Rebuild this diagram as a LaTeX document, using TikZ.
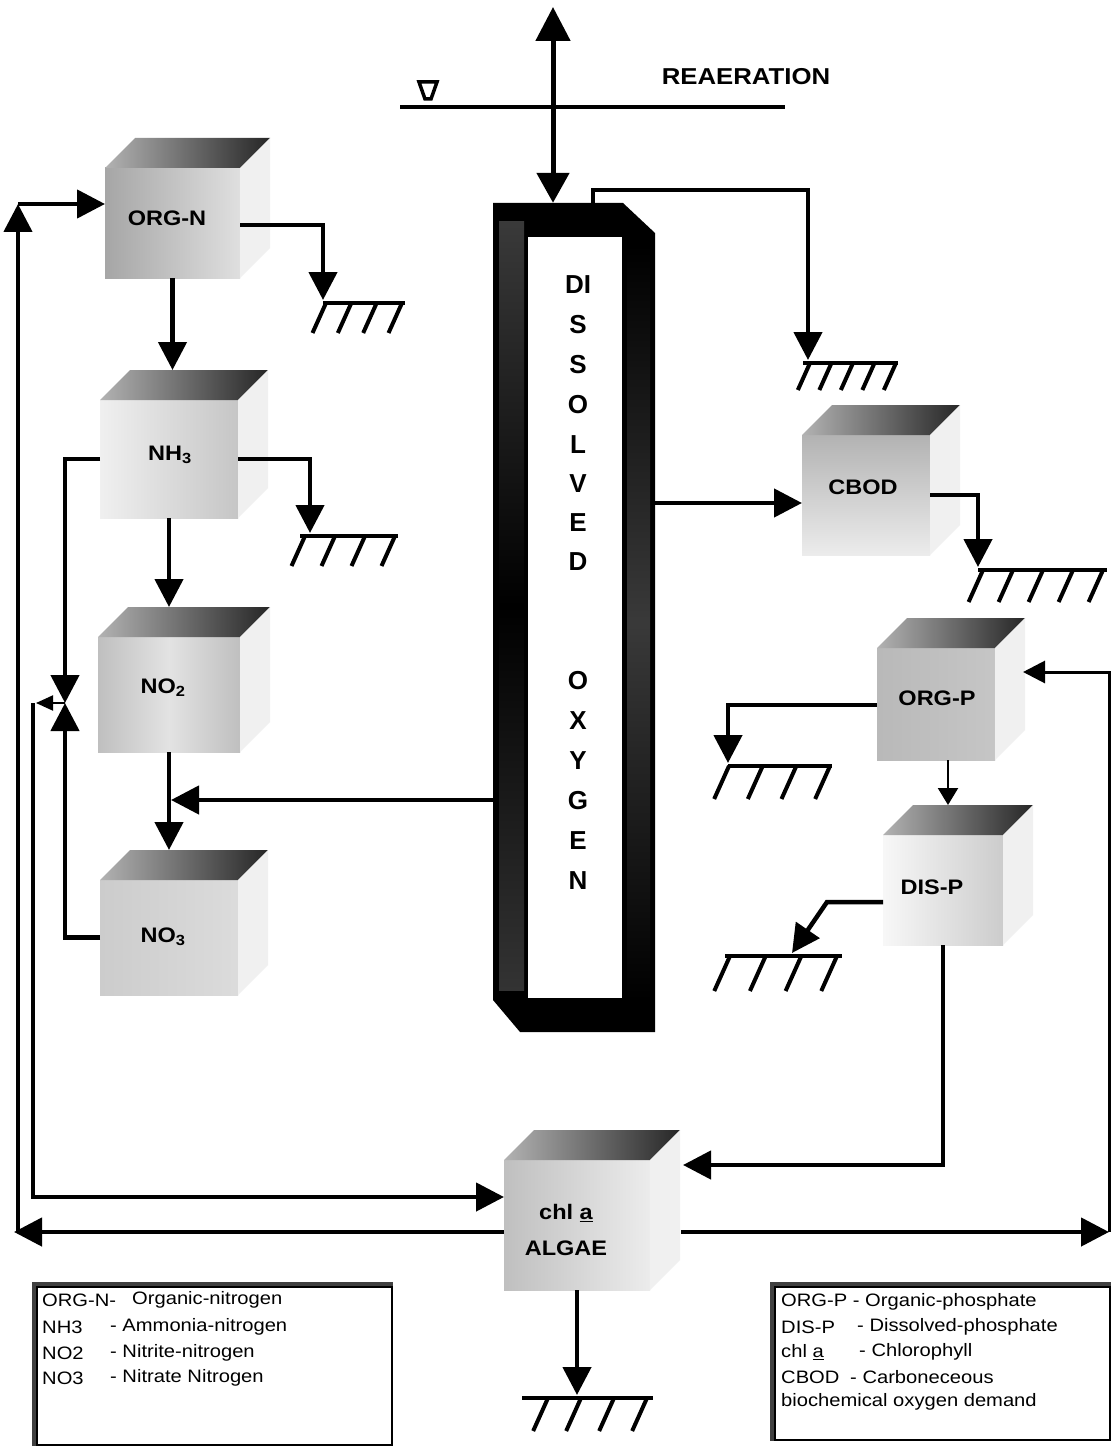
\documentclass[tikz,border=0pt]{standalone}
\usepackage{fontspec}
\setmainfont{Liberation Sans}
\newfontfamily\labfont[FakeStretch=1.12]{Liberation Sans}
\newfontfamily\legfont[FakeStretch=1.12]{Liberation Sans}
\usetikzlibrary{arrows.meta}

\newcommand\cubebox[6]{%
  \node[frontface, minimum width=#4pt, minimum height=#5pt, #6] (#1) at (#2,#3) {};
  \path[topface] (#1.north west) -- ++(30,-30) -- ++(#4,0) -- (#1.north east) -- cycle;
  \path[sideface] (#1.north east) -- ++(30,-30) -- ++(0,#5) -- (#1.south east) -- cycle;
  \coordinate (#1T) at ([yshift=30pt]#1.north);
}
\newcommand\sinksym[9]{%
  \coordinate (#1) at (#2,#3);
  \draw[gline] (#4,#3+3) -- (#5,#3+3);
  \pgfmathsetmacro\hstep{(#7-#6)/(#8-1)}
  \pgfmathtruncatemacro\hlast{#8-1}
  \foreach \k in {0,...,\hlast} \draw[hline] (#6+\k*\hstep,#3+3) -- ++(-0.45*#9,#9);
}

\begin{document}
\begin{tikzpicture}[x=1pt,y=-1pt,
 flow/.style={line width=4.5pt,-{Triangle[length=28pt,width=28pt]}},
 dflow/.style={line width=5pt,{Triangle[length=34pt,width=34pt]}-{Triangle[length=30pt,width=32pt]}},
 tflow/.style={line width=2.2pt,-{Triangle[length=17pt,width=20pt]}},
 sflow/.style={line width=2pt,-{Triangle[length=17pt,width=15pt]}},
 rflow/.style={line width=3pt,-{Triangle[length=22pt,width=22pt]}},
 gline/.style={line width=4pt},
 hline/.style={line width=4pt},
 frontface/.style={inner sep=0pt, outer sep=0pt, draw=none},
 topface/.style={left color=gray!60, right color=black!85},
 sideface/.style={fill=gray!12},
 lbl/.style={font=\labfont\bfseries\fontsize{21}{21}\selectfont, inner sep=0pt},
 dolet/.style={font=\bfseries\fontsize{26}{26}\selectfont, inner sep=0pt},
 legtxt/.style={anchor=west, inner sep=0pt, font=\legfont\fontsize{18}{18}\selectfont},
 legbox/.style={draw, line width=1.5pt, inner sep=0pt, fill=white},
]
\fill[white] (0,0) rectangle (1112,1455);
\useasboundingbox (0,0) rectangle (1112,1455);

% ---------- boxes ----------
\cubebox{orgn}{172.5}{223}{135}{110}{left color=gray!70, right color=gray!25}
\cubebox{nh3}{169}{459}{138}{118}{left color=gray!12, right color=gray!45}
\cubebox{no2}{169}{694.5}{142}{115}{left color=gray!50, right color=gray!50, middle color=gray!22}
\cubebox{no3}{169}{937.5}{138}{115}{left color=gray!40, right color=gray!28}
\cubebox{cbod}{866}{495}{128}{120}{top color=gray!60, bottom color=gray!15}
\cubebox{orgp}{936}{704}{118}{112}{left color=gray!55, right color=gray!45}
\cubebox{disp}{943}{890}{120}{110}{left color=gray!6, right color=gray!40}
\cubebox{algae}{577}{1225}{146}{130}{left color=gray!50, right color=gray!15}

% ---------- dissolved oxygen column ----------
\node[inner sep=0pt, minimum width=162pt, minimum height=829pt] (do) at (574,617.5) {};
\fill[black] (493,203) -- (623,203) -- (655,233) -- (655,1032) -- (520,1032) -- (493,1000) -- cycle;
\shade[top color=gray!45!black, bottom color=gray!40!black, middle color=black] (499,222) rectangle (524,990);
\shade[top color=black, bottom color=black, middle color=gray!45!black] (627,245) rectangle (650,1000);
\fill[white] (528,237) rectangle (622,998);

% ---------- water surface ----------
\draw[line width=4pt] (400,107) -- (785,107);
\draw[line width=3.5pt, line join=miter] (419,82) -- (437,82) -- (431,99) -- (425,99) -- cycle;
\node[font=\labfont\bfseries\fontsize{23}{23}\selectfont, inner sep=0pt] (rea) at (746,77) {REAERATION};

% ---------- sinks ----------
\sinksym{s1}{323}{300}{323}{405}{326}{402}{4}{30}
\sinksym{s2}{310}{533}{300}{398}{305}{395}{4}{30}
\sinksym{s3}{808}{360}{803}{898}{810}{896}{5}{27}
\sinksym{s4}{978}{567}{978}{1107}{983}{1103}{5}{32}
\sinksym{s5}{728}{763}{728}{832}{729}{830}{4}{33}
\sinksym{s6}{792}{953}{725}{842}{730}{837}{4}{35}
\sinksym{s7}{577}{1395}{522}{653}{548}{647}{4}{33}

% ---------- connectors ----------
\coordinate (reaTop) at (553,7);
\draw[dflow] (reaTop) -- (reaTop |- do.north);
\coordinate (doT) at ([xshift=19pt]do.north);
\draw[flow] (doT) -- ++(0,-13) -| (s3);

\draw[flow] ([yshift=-2pt]orgn.east) -| (s1);
\draw[flow] (orgn.south) -- (orgn.south |- nh3T);
\draw[flow] (nh3.south) -- (nh3.south |- no2T);
\draw[flow] (no2.south) -- (no2.south |- no3T);
\draw[flow] (nh3.east) -| (s2);

\coordinate (bow) at (65,703);
\draw[flow] (nh3.west) -| (bow);
\draw[flow] (no3.west) -| (bow);
\coordinate (bowL) at (33,703);
\coordinate (bowT) at (36,703);
\draw[sflow] (bow) -- (bowT);
\coordinate (aIn) at ([yshift=28pt]algae.west);
\draw[flow] (bowL) |- (aIn);

\coordinate (noM) at (171,800);
\draw[flow] (do.west |- noM) -- (noM);

\coordinate (aL) at ([yshift=-7pt]algae.west);
\coordinate (LA) at (14,1232);
\draw[flow] (aL) -- (LA);
\coordinate (LL) at (18,1232);
\coordinate (LU) at (18,204);
\draw[flow] (LL) -- (LU);
\draw[flow] (LU) -- (LU -| orgn.west);

\coordinate (aR) at ([xshift=31pt,yshift=-7pt]algae.east);
\coordinate (RR) at (1109,1232);
\draw[flow] (aR) -- (RR);
\coordinate (oIn) at ([xshift=28pt,yshift=-24pt]orgp.north east);
\draw[rflow] (RR) |- (oIn);

\coordinate (cbIn) at ([yshift=-8pt]cbod.west);
\draw[flow] (do.east |- cbIn) -- (cbIn);
\draw[flow] (cbod.east) -| (s4);

\coordinate (opW) at ([yshift=-1pt]orgp.west);
\draw[flow] (opW) -| (s5);
\coordinate (opS) at ([xshift=12pt]orgp.south);
\draw[tflow] (opS) -- (opS |- dispT);

\coordinate (dpW) at ([yshift=-12pt]disp.west);
\coordinate (b6) at (827,902);
\draw[flow] (dpW) -- (b6) -- (s6);
\coordinate (aIn2) at ([xshift=33pt,yshift=-5pt]algae.north east);
\draw[flow] (disp.south) |- (aIn2);

\draw[flow] (algae.south) -- (s7);

% ---------- labels ----------
\node[lbl] (orgnL) at (167,218) {ORG-N};
\node[lbl] (nh3L) at (170,455) {NH\textsubscript{3}};
\node[lbl] (no2L) at (163,688) {NO\textsubscript{2}};
\node[lbl] (no3L) at (163,937) {NO\textsubscript{3}};
\node[lbl] (cbodL) at (863,487) {CBOD};
\node[lbl] (orgpL) at (937,698) {ORG-P};
\node[lbl] (dispL) at (932,887) {DIS-P};
\node[lbl] (chlL) at (566,1213) {chl \underline{a}};
\node[lbl] (algL) at (566,1248) {ALGAE};

\foreach \t/\yy [count=\i] in {DI/285,S/325,S/365,O/405,L/445,V/484,E/523,D/562,O/681,X/721,Y/761,G/801,E/841,N/881}
  \node[dolet] (dol\i) at (578,\yy) {\t};

% ---------- legends ----------
\node[legbox, minimum width=355pt, minimum height=158pt] (legN) at (214.5,1366) {};
\draw[black!75, line width=4pt] ([xshift=-2pt]legN.south west) -- ([xshift=-2pt,yshift=2pt]legN.north west) -- ([yshift=2pt]legN.north east);
\node[legtxt] (ln1a) at (42,1300) {ORG-N-};
\node[legtxt] (ln1b) at (132,1300) {Organic-nitrogen};
\node[legtxt] (ln2a) at (42,1327) {NH3};
\node[legtxt] (ln2b) at (110,1327) {- Ammonia-nitrogen};
\node[legtxt] (ln3a) at (42,1353) {NO2};
\node[legtxt] (ln3b) at (110,1353) {- Nitrite-nitrogen};
\node[legtxt] (ln4a) at (42,1378) {NO3};
\node[legtxt] (ln4b) at (110,1378) {- Nitrate Nitrogen};

\node[legbox, minimum width=335pt, minimum height=153pt] (legP) at (942.5,1363.5) {};
\draw[black!75, line width=4pt] ([xshift=-2pt]legP.south west) -- ([xshift=-2pt,yshift=2pt]legP.north west) -- ([yshift=2pt]legP.north east);
\node[legtxt] (lp1) at (781,1302) {ORG-P - Organic-phosphate};
\node[legtxt] (lp2a) at (781,1327) {DIS-P};
\node[legtxt] (lp2b) at (857,1327) {- Dissolved-phosphate};
\node[legtxt] (lp3a) at (781,1352) {chl \underline{a}};
\node[legtxt] (lp3b) at (859,1352) {- Chlorophyll};
\node[legtxt] (lp4a) at (781,1377) {CBOD};
\node[legtxt] (lp4b) at (850,1377) {- Carboneceous};
\node[legtxt] (lp5) at (781,1402) {biochemical oxygen demand};
\end{tikzpicture}
\end{document}
